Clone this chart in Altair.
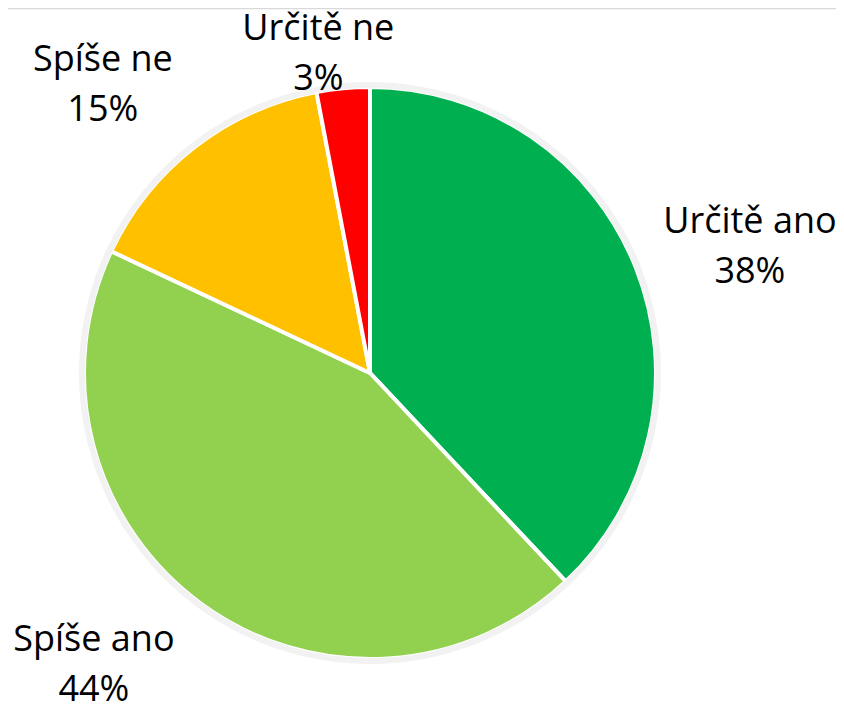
import altair as alt
import pandas as pd

categories = ["Určitě ano", "Spíše ano", "Spíše ne", "Určitě ne"]
values = [38, 44, 15, 3]
colors = ["#00B050", "#92D050", "#FFC000", "#FF0000"]

df = pd.DataFrame({"category": categories, "value": values, "order": list(range(len(categories)))})

W, H = 828, 698
CX, CY = 362, 365
R = 286
LH = 50

# label layout: radius, dx, dy (positions only, not data)
label_layout = {
    "Určitě ano": (400, 8, 21),
    "Spíše ano": (400, -41, -32),
    "Spíše ne": (400, -22, 28),
    "Určitě ne": (326, -21, 6),
}

base = alt.Chart(df).encode(
    theta=alt.Theta("value:Q", stack=True),
    order=alt.Order("order:Q"),
    x=alt.value(CX),
    y=alt.value(CY),
)

slices = base.mark_arc(radius=R, stroke="white", strokeWidth=4).encode(
    color=alt.Color("category:N", scale=alt.Scale(domain=categories, range=colors), legend=None)
)

ring = base.mark_arc(radius=R + 5, radius2=R - 1, color="#F2F2F2")

layers = [slices, ring]
for cat in categories:
    r, dx, dy = label_layout[cat]
    t = (
        alt.Chart(df)
        .transform_window(cum="sum(value)", sort=[alt.SortField("order")], frame=[None, 0])
        .transform_calculate(mid="datum.cum - datum.value / 2",
                             label="datum.category + '|' + datum.value + '%'")
        .transform_filter(alt.datum.category == cat)
        .mark_text(radius=r, dx=dx, dy=dy - LH / 2, font="Open Sans", fontSize=36,
                   lineBreak="|", lineHeight=LH, align="center", baseline="middle", color="black")
        .encode(
            theta=alt.Theta("mid:Q", scale=alt.Scale(domain=[0, 100])),
            text="label:N",
            x=alt.value(CX),
            y=alt.value(CY),
        )
    )
    layers.append(t)

top_rule = alt.Chart(pd.DataFrame({"a": [0]})).mark_rule(color="#D9D9D9", strokeWidth=2.5).encode(
    x=alt.value(0), x2=alt.value(W), y=alt.value(0)
)
layers.append(top_rule)

chart = alt.layer(*layers).properties(
    width=W, height=H, padding=0, autosize="none"
).configure_view(stroke=None)

chart.save("out.html", embed_options={"renderer": "svg", "actions": False})
